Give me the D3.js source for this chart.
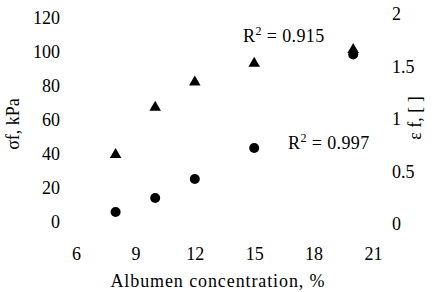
<html>
<head>
	<meta charset="utf-8">
	<script src="https://d3js.org/d3.v7.min.js"></script>
	<style>
	body { margin: 0; background: #fff; }
	text { font-family: "Liberation Serif", "DejaVu Serif", serif; fill: #000; }
	.axis path, .axis line { display: none; }
	.axis text { font-size: 18px; font-family: "Liberation Serif", serif; }
	</style>
</head>
<body>
	<div id="chart"></div>

	<script>
		// albumen concentration, %
		var concentration = [8, 10, 12, 15, 20];
		// failure stress (circles, left axis) and failure strain (triangles, right axis)
		var stressKPa = [5.9, 14.1, 25.3, 43.5, 98.5];
		var strain = [0.66, 1.11, 1.35, 1.53, 1.66];

		var xTicks = [6, 9, 12, 15, 18, 21];
		var leftTicks = [0, 20, 40, 60, 80, 100, 120];
		var rightTicks = [0, 0.5, 1, 1.5, 2];
		var r2Labels = ["0.915", "0.997"];

		var svg = d3.select("#chart")
			.append("svg")
			.attr("width", 432)
			.attr("height", 292);

		var x = d3.scaleLinear().domain([6, 21]).range([76, 373]),
		    yL = d3.scaleLinear().domain([0, 120]).range([222, 18]),
		    yR = d3.scaleLinear().domain([0, 2]).range([224, 14]);

		// axes (labels only, no lines)
		svg.append("g")
		    .attr("class", "axis")
		    .attr("transform", "translate(0,223)")
		    .call(d3.axisBottom(x).tickValues(xTicks).tickSize(0).tickPadding(24));

		svg.append("g")
		    .attr("class", "axis")
		    .attr("transform", "translate(63,0)")
		    .call(d3.axisLeft(yL).tickValues(leftTicks).tickSize(0).tickPadding(3));

		svg.append("g")
		    .attr("class", "axis")
		    .attr("transform", "translate(389,0)")
		    .call(d3.axisRight(yR).tickValues(rightTicks).tickSize(0).tickPadding(3)
		      .tickFormat(d3.format("")));

		// axis titles
		svg.append("text")
		    .attr("x", 218)
		    .attr("y", 287)
		    .attr("text-anchor", "middle")
		    .style("font-size", "18px")
		    .style("letter-spacing", "0.9px")
		    .text("Albumen concentration, %");

		svg.append("text")
		    .attr("transform", "translate(19,124) rotate(-90)")
		    .attr("text-anchor", "middle")
		    .style("font-size", "18px")
		    .text("σf, kPa");

		svg.append("text")
		    .attr("transform", "translate(421,118) rotate(-90)")
		    .attr("text-anchor", "middle")
		    .style("font-size", "18px")
		    .text("ε f, [ ]");

		// failure strain - triangles
		svg.selectAll(".tri")
		  .data(concentration)
		  .enter().append("path")
		    .attr("class", "tri")
		    .attr("d", d3.symbol().type(d3.symbolTriangle).size(58))
		    .attr("transform", function(d, i) {
		    	return "translate(" + x(d) + "," + yR(strain[i]) + ")";
		    })
		    .attr("fill", "#000");

		// failure stress - circles
		svg.selectAll(".dot")
		  .data(concentration)
		  .enter().append("circle")
		    .attr("class", "dot")
		    .attr("cx", function(d) { return x(d); })
		    .attr("cy", function(d, i) { return yL(stressKPa[i]); })
		    .attr("r", 5)
		    .attr("fill", "#000");

		// R squared annotations
		var r2Pos = [[243, 42], [288, 149]];
		r2Labels.forEach(function(v, i) {
		  var t = svg.append("text")
		      .attr("x", r2Pos[i][0])
		      .attr("y", r2Pos[i][1])
		      .style("font-size", "18px")
		      .style("letter-spacing", "0.4px");
		  t.append("tspan").text("R");
		  t.append("tspan").attr("dy", -7).style("font-size", "12px").text("2");
		  t.append("tspan").attr("dy", 7).text(" = " + v);
		});
	</script>
</body>
</html>
